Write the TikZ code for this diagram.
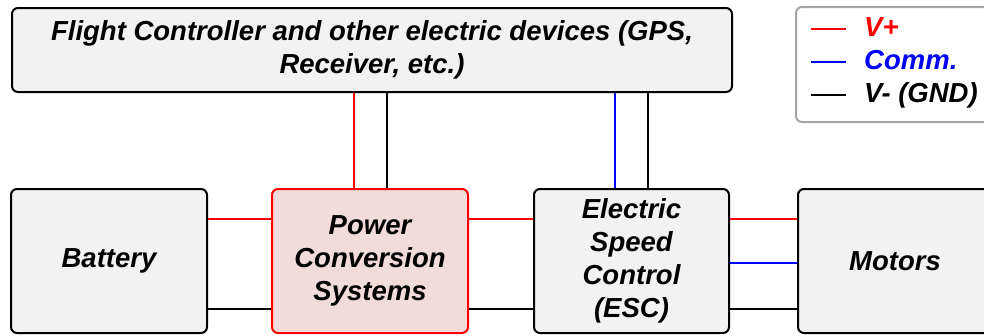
\documentclass[tikz,border=0pt]{standalone}
\usepackage{fontspec}
\setmainfont{Liberation Sans}
\usepackage{xcolor}
\definecolor{boxgray}{HTML}{F2F2F2}
\definecolor{pcspink}{HTML}{F2DCDB}
\definecolor{wirered}{HTML}{FF0000}
\definecolor{wireblue}{HTML}{0000FF}
\definecolor{keygray}{HTML}{A6A6A6}

\begin{document}
\begin{tikzpicture}[x=1pt, y=-1pt,
      block/.style={draw=black, line width=2pt, rounded corners=6pt, fill=boxgray,
                    align=center, inner sep=0pt, minimum width=196pt, minimum height=144pt,
                    font=\fontsize{27.5}{33}\selectfont\bfseries\itshape},
      vplus/.style={draw=wirered, line width=2.6pt},
      comm/.style={draw=wireblue, line width=2.6pt},
      gnd/.style={draw=black, line width=2.6pt},
      keytext/.style={anchor=base west, inner sep=0pt,
                      font=\fontsize{27.5}{33}\selectfont\bfseries\itshape}
    ]
      \useasboundingbox (0,0) rectangle (984,335);

      \node[block, minimum width=720pt, minimum height=84pt] (fc) at (372,50)
        {Flight Controller and other electric devices (GPS,\\Receiver, etc.)};
      \node[block] (bat) at (109,261) {Battery};
      \node[block, fill=pcspink, draw=wirered] (pcs) at (370,261) {Power\\Conversion\\Systems};
      \node[block, minimum width=195pt] (esc) at (631.5,261) {Electric\\Speed\\Control\\(ESC)};
      \node[block, minimum width=194pt] (mot) at (895,261) {Motors};

      \node[draw=keygray, line width=2pt, rounded corners=6pt, fill=white,
            minimum width=210pt, minimum height=115pt] (keybox) at (901,64.5) {};
      \node[keytext, text=wirered] (kv) at (864,36) {V+};
      \node[keytext, text=wireblue] (kc) at (864,69) {Comm.};
      \node[keytext] (kg) at (864,102) {V- (GND)};

      \draw[vplus] ([xshift=-18pt,yshift=7pt]kv.base west) -- ([xshift=-53pt,yshift=7pt]kv.base west);
      \draw[comm] ([xshift=-18pt,yshift=7pt]kc.base west) -- ([xshift=-53pt,yshift=7pt]kc.base west);
      \draw[gnd] ([xshift=-18pt,yshift=7pt]kg.base west) -- ([xshift=-53pt,yshift=7pt]kg.base west);

      \draw[vplus] ([xshift=-16pt]pcs.north) -- ([xshift=-16pt]pcs.north |- fc.south);
      \draw[gnd] ([xshift=17pt]pcs.north) -- ([xshift=17pt]pcs.north |- fc.south);
      \draw[comm] ([xshift=-16.5pt]esc.north) -- ([xshift=-16.5pt]esc.north |- fc.south);
      \draw[gnd] ([xshift=16.5pt]esc.north) -- ([xshift=16.5pt]esc.north |- fc.south);

      \draw[vplus] ([yshift=42pt]bat.east) -- ([yshift=42pt]pcs.west);
      \draw[gnd] ([yshift=-48pt]bat.east) -- ([yshift=-48pt]pcs.west);
      \draw[vplus] ([yshift=42pt]pcs.east) -- ([yshift=42pt]esc.west);
      \draw[gnd] ([yshift=-48pt]pcs.east) -- ([yshift=-48pt]esc.west);
      \draw[vplus] ([yshift=42pt]esc.east) -- ([yshift=42pt]mot.west);
      \draw[comm] ([yshift=-2pt]esc.east) -- ([yshift=-2pt]mot.west);
      \draw[gnd] ([yshift=-48pt]esc.east) -- ([yshift=-48pt]mot.west);
    \end{tikzpicture}
\end{document}
